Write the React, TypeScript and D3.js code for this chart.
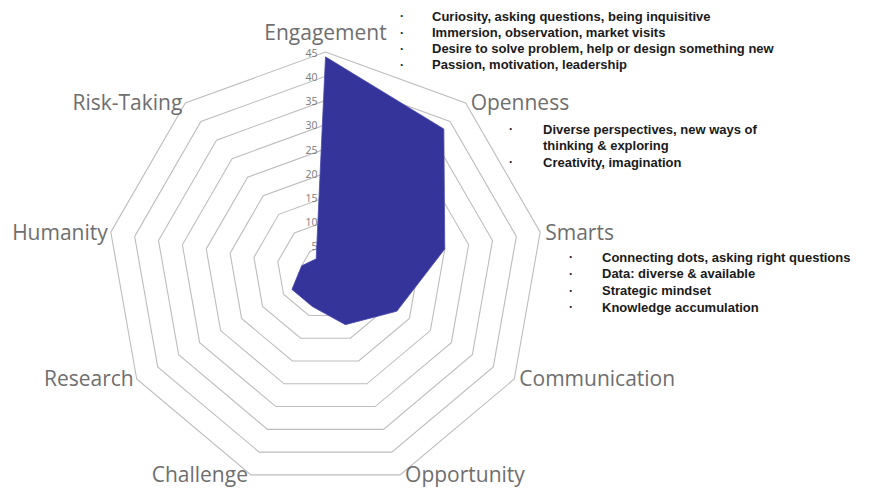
import React, { useEffect, useRef } from "react";
import * as d3 from "d3";

// axes of the radar, clockwise from the top
const categories = [
  "Engagement",
  "Openness",
  "Smarts",
  "Communication",
  "Opportunity",
  "Challenge",
  "Research",
  "Humanity",
  "Risk-Taking",
];
const scores = [44, 38, 25, 17, 12, 8, 8, 5, 3];
const ticks = [5, 10, 15, 20, 25, 30, 35, 40, 45];

// notes beside the chart, each bullet can run over several lines
const engagementNotes = [
  ["Curiosity, asking questions, being inquisitive"],
  ["Immersion, observation, market visits"],
  ["Desire to solve problem, help or design something new"],
  ["Passion, motivation, leadership"],
];
const opennessNotes = [
  ["Diverse perspectives, new ways of", "thinking & exploring"],
  ["Creativity, imagination"],
];
const smartsNotes = [
  ["Connecting dots, asking right questions"],
  ["Data: diverse & available"],
  ["Strategic mindset"],
  ["Knowledge accumulation"],
];

const W = 875;
const H = 490;
const cx = 325.5;
const cy = 270;
const R = 218;

const App = () => {
  const svgRef = useRef<SVGSVGElement>(null);

  useEffect(() => {
    if (!svgRef.current) return;
    const svg = d3.select(svgRef.current);
    svg.selectAll("*").remove();

    const r = d3.scaleLinear().domain([0, 45]).range([0, R]);
    const angle = d3
      .scaleLinear()
      .domain([0, categories.length])
      .range([0, 2 * Math.PI]);

    const g = svg.append("g").attr("transform", `translate(${cx},${cy})`);

    const ring = d3
      .lineRadial<number>()
      .angle((_, i) => angle(i))
      .radius((d) => r(d))
      .curve(d3.curveLinearClosed);

    // grid rings
    g.selectAll("path.ring")
      .data(ticks)
      .enter()
      .append("path")
      .attr("class", "ring")
      .attr("d", (t) => ring(categories.map(() => t)))
      .attr("fill", "none")
      .attr("stroke", "#bdbdbd")
      .attr("stroke-width", 1.1);

    // tick labels along the top axis
    g.selectAll("text.tick")
      .data(ticks)
      .enter()
      .append("text")
      .attr("class", "tick")
      .attr("x", -8)
      .attr("y", (t) => -r(t) + 1)
      .attr("dy", "0.35em")
      .attr("text-anchor", "end")
      .attr("font-family", "'Open Sans', sans-serif")
      .attr("font-size", 10.5)
      .attr("fill", "#7a7a7a")
      .text((t) => t);

    // the filled series
    g.append("path")
      .attr("d", ring(scores))
      .attr("fill", "#34349a")
      .attr("stroke", "#4a4ab0")
      .attr("stroke-width", 0.8);

    // category labels
    g.selectAll("text.cat")
      .data(categories)
      .enter()
      .append("text")
      .attr("class", "cat")
      .each(function (d, i) {
        const a = angle(i);
        const s = Math.sin(a);
        const x = r(45) * s;
        const y = -r(45) * Math.cos(a);
        const t = d3.select(this);
        if (i === 0) {
          t.attr("x", x).attr("y", y - 19).attr("text-anchor", "middle");
        } else {
          t.attr("x", x + (s > 0 ? 5 : -3))
            .attr("y", y)
            .attr("text-anchor", s > 0 ? "start" : "end");
        }
      })
      .attr("dy", "0.35em")
      .attr("font-family", "'Open Sans', sans-serif")
      .attr("font-size", 21)
      .attr("fill", "#6e6e6e")
      .text((d) => d);

    // bullet notes
    const drawNotes = (notes: string[][], dotX: number, textX: number, y0: number, step: number) => {
      let line = 0;
      notes.forEach((item) => {
        svg
          .append("text")
          .attr("x", dotX)
          .attr("y", y0 + line * step)
          .attr("dy", "0.35em")
          .attr("font-family", "'Liberation Sans', Arial, sans-serif")
          .attr("font-size", 12)
          .attr("font-weight", "bold")
          .attr("fill", "#222")
          .text("·");
        item.forEach((txt) => {
          svg
            .append("text")
            .attr("x", textX)
            .attr("y", y0 + line * step)
            .attr("dy", "0.35em")
            .attr("font-family", "'Liberation Sans', Arial, sans-serif")
            .attr("font-size", 13)
            .attr("font-weight", "bold")
            .attr("fill", "#1a1a1a")
            .text(txt);
          line++;
        });
      });
    };

    drawNotes(engagementNotes, 400, 432, 16, 16.3);
    drawNotes(opennessNotes, 509, 543, 129, 16.5);
    drawNotes(smartsNotes, 569, 602, 257, 16.7);
  }, []);

  return (
    <div style={{ position: "absolute", left: 0, top: 0 }}>
      <svg ref={svgRef} width={W} height={H} style={{ display: "block", background: "#fff" }} />
    </div>
  );
};

export default App;
